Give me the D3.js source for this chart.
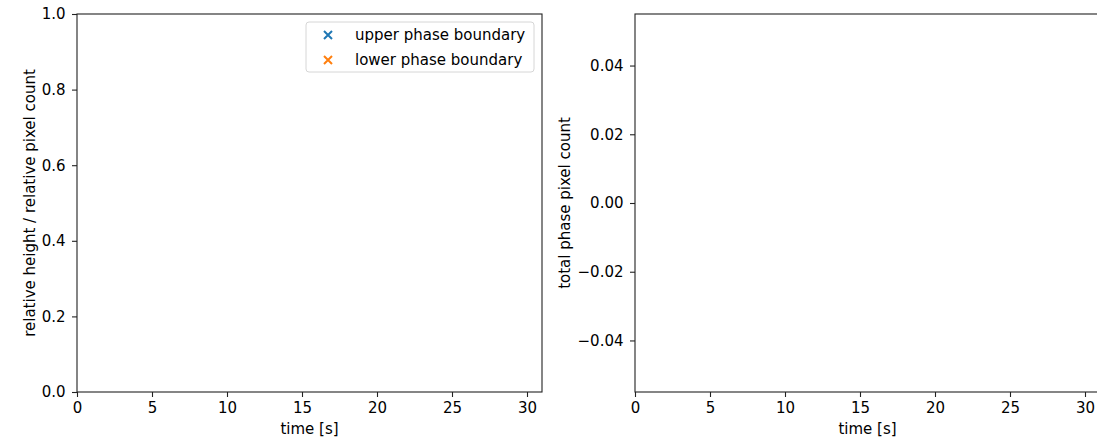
<!DOCTYPE html>
<html>
<head>
<meta charset="utf-8">
<script src="https://cdn.jsdelivr.net/npm/d3@7"></script>
<style>
	body { margin: 0; background: #fff; }
	svg text { font-family: "DejaVu Sans", sans-serif; fill: #000; }
</style>
</head>
<body>
<svg id="chart"></svg>
<script>
const width = 1097;
const height = 441;

// data (the reference plots are empty)
const upperPhaseBoundary = []; // [time, relative height]
const lowerPhaseBoundary = [];
const totalPhasePixelCount = []; // [time, count]

const seriesNames = ["upper phase boundary", "lower phase boundary"];
const seriesColors = ["#1f77b4", "#ff7f0e"];

const xDomain = [0, 31];
const xTicks = [0, 5, 10, 15, 20, 25, 30];
const leftYDomain = [0, 1];
const leftYTicks = [0, 0.2, 0.4, 0.6, 0.8, 1.0];
const rightYDomain = [-0.055, 0.055];
const rightYTicks = [-0.04, -0.02, 0, 0.02, 0.04];

const svg = d3.select("#chart").attr("width", width).attr("height", height);

const plotTop = 14;
const plotBottom = 392;
const fontSize = 15;

function drawPanel(left, right, yDomain, yTicks, yFormat) {
	const x = d3.scaleLinear().domain(xDomain).range([left, right]);
	const y = d3.scaleLinear().domain(yDomain).range([plotBottom, plotTop]);
	const g = svg.append("g");

	// frame
	g.append("rect")
		.attr("x", left)
		.attr("y", plotTop)
		.attr("width", right - left)
		.attr("height", plotBottom - plotTop)
		.attr("fill", "none")
		.attr("stroke", "#222")
		.attr("stroke-width", 1.1);

	const xAxis = g.append("g")
		.attr("transform", `translate(0,${plotBottom})`)
		.call(d3.axisBottom(x).tickValues(xTicks).tickSize(5).tickPadding(5.5).tickFormat(d3.format("d")));
	const yAxis = g.append("g")
		.attr("transform", `translate(${left},0)`)
		.call(d3.axisLeft(y).tickValues(yTicks).tickSize(5).tickPadding(6.5).tickFormat(yFormat));

	[xAxis, yAxis].forEach((a) => {
		a.select(".domain").remove();
		a.selectAll(".tick line").attr("stroke", "#222").attr("stroke-width", 1.1);
		a.selectAll(".tick text").attr("font-size", fontSize).attr("fill", "#000");
	});

	g.append("text")
		.attr("x", (left + right) / 2)
		.attr("y", 434)
		.attr("text-anchor", "middle")
		.attr("font-size", fontSize)
		.text("time [s]");

	return { g, x, y };
}

const minusFmt = (f) => (d) => f(d).replace("-", "\u2212");

const leftPanel = drawPanel(77, 542, leftYDomain, leftYTicks, d3.format(".1f"));
const rightPanel = drawPanel(635, 1100, rightYDomain, rightYTicks, minusFmt(d3.format(".2f")));

// y labels
svg.append("text")
	.attr("transform", `translate(35,${(plotTop + plotBottom) / 2}) rotate(-90)`)
	.attr("text-anchor", "middle")
	.attr("font-size", fontSize)
	.text("relative height / relative pixel count");

svg.append("text")
	.attr("transform", `translate(570,${(plotTop + plotBottom) / 2}) rotate(-90)`)
	.attr("text-anchor", "middle")
	.attr("font-size", fontSize)
	.text("total phase pixel count");

// series marks (none in the reference)
const crossPath = (cx, cy, r) => `M${cx - r},${cy - r}L${cx + r},${cy + r}M${cx - r},${cy + r}L${cx + r},${cy - r}`;

[upperPhaseBoundary, lowerPhaseBoundary].forEach((series, i) => {
	leftPanel.g.selectAll(null)
		.data(series)
		.join("path")
		.attr("d", (d) => crossPath(leftPanel.x(d[0]), leftPanel.y(d[1]), 4))
		.attr("stroke", seriesColors[i])
		.attr("stroke-width", 1.5);
});

rightPanel.g.append("path")
	.datum(totalPhasePixelCount)
	.attr("fill", "none")
	.attr("stroke", "#1f77b4")
	.attr("d", d3.line().x((d) => rightPanel.x(d[0])).y((d) => rightPanel.y(d[1])));

// legend
const legend = svg.append("g");
legend.append("rect")
	.attr("x", 306)
	.attr("y", 22)
	.attr("width", 228)
	.attr("height", 50)
	.attr("rx", 3)
	.attr("fill", "#fff")
	.attr("stroke", "#d6d6d6")
	.attr("stroke-width", 1);

seriesNames.forEach((name, i) => {
	const cy = 35 + i * 25;
	legend.append("path")
		.attr("d", crossPath(328, cy, 4))
		.attr("stroke", seriesColors[i])
		.attr("stroke-width", 2);
	legend.append("text")
		.attr("x", 355)
		.attr("y", cy + 5)
		.attr("font-size", fontSize)
		.text(name);
});
</script>
</body>
</html>
